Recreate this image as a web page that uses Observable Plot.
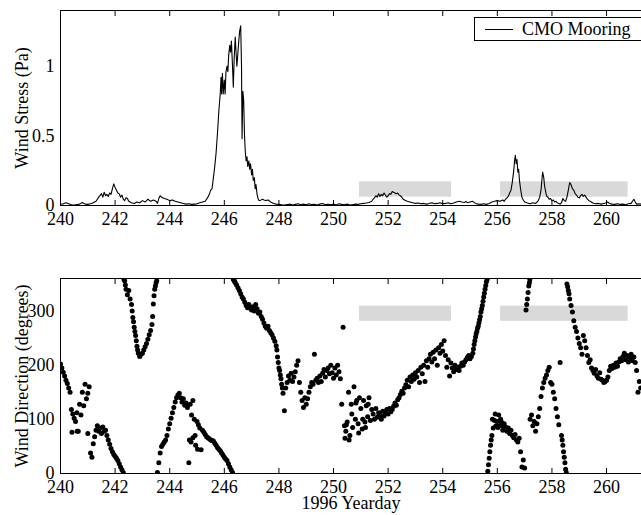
<!DOCTYPE html>
<html>
<head>
<meta charset="utf-8">
<script src="https://cdn.jsdelivr.net/npm/d3@7"></script>
<script src="https://cdn.jsdelivr.net/npm/@observablehq/plot@0.6"></script>
<style>
  html, body { margin: 0; padding: 0; background: #fff; overflow: hidden; }
  #chart { position: relative; width: 641px; height: 515px; overflow: hidden;
           font-family: "Liberation Serif", "Times New Roman", serif; }
  #chart svg { display: block; }
  #legend { position: absolute; left: 474px; top: 17px; width: 190px; height: 24px;
            border: 1px solid #000; background: #fff; box-sizing: border-box; }
  #legend .swatch { position: absolute; left: 10px; top: 11px; width: 28px; border-top: 1px solid #000; }
  #legend .label { position: absolute; left: 47px; top: 1px; font-size: 18px; line-height: 20px; white-space: nowrap; color: #000; }
</style>
</head>
<body>
<div id="chart">
  <div id="legend"><span class="swatch"></span><span class="label"></span></div>
</div>
<script>
// ---- Axis settings ----
const xDomain = [240, 261.28];
const xTicks = [240, 242, 244, 246, 248, 250, 252, 254, 256, 258, 260];
const stressTicks = [0, 0.5, 1];
const directionTicks = [0, 100, 200, 300];
const stressLabel = "Wind Stress (Pa)";
const directionLabel = "Wind Direction (degrees)";
const xLabel = "1996 Yearday";
const seriesName = "CMO Mooring";

// ---- Shaded analysis windows (yeardays) ----
const windowStart = [250.95, 256.12];
const windowEnd = [254.32, 260.79];
const stressBand = [0.06, 0.17];
const directionBand = [281, 309];

// ---- Wind stress (Pa) at the mooring ----
const stressDay = [
  240.0, 240.1, 240.2, 240.3, 240.4, 240.5, 240.6, 240.7, 240.8, 240.9,
  241.0, 241.1, 241.2, 241.3, 241.4, 241.5, 241.55, 241.6, 241.65, 241.7, 241.75, 241.8, 241.85, 241.9, 241.95,
  242.0, 242.05, 242.1, 242.15, 242.2, 242.25, 242.3, 242.35, 242.4, 242.45, 242.5, 242.6, 242.7, 242.8, 242.9,
  243.0, 243.1, 243.2, 243.3, 243.4, 243.5, 243.55, 243.6, 243.65, 243.7, 243.8, 243.9,
  244.0, 244.1, 244.2, 244.3, 244.4, 244.5, 244.6, 244.7, 244.8, 244.9,
  245.0, 245.1, 245.2, 245.3, 245.4, 245.45, 245.5, 245.55, 245.6, 245.65, 245.7, 245.75, 245.8, 245.85, 245.88, 245.9, 245.93, 245.96,
  246.0, 246.03, 246.06, 246.1, 246.13, 246.16, 246.2, 246.23, 246.26, 246.3, 246.33, 246.36, 246.4, 246.43, 246.46, 246.5, 246.53, 246.56, 246.6, 246.63, 246.65, 246.68, 246.71, 246.74, 246.77, 246.8, 246.83, 246.86, 246.9, 246.93, 246.96,
  247.0, 247.03, 247.06, 247.1, 247.13, 247.16, 247.2, 247.25, 247.3, 247.4, 247.5, 247.6, 247.7, 247.8, 247.9,
  248.0, 248.1, 248.2, 248.3, 248.4, 248.5, 248.6, 248.7, 248.8, 248.9,
  249.0, 249.1, 249.2, 249.3, 249.4, 249.5, 249.6, 249.7, 249.8, 249.9,
  250.0, 250.1, 250.2, 250.3, 250.4, 250.5, 250.6, 250.7, 250.8, 250.9,
  251.0, 251.1, 251.2, 251.3, 251.4, 251.45, 251.5, 251.55, 251.6, 251.65, 251.7, 251.75, 251.8, 251.85, 251.9, 251.95,
  252.0, 252.05, 252.1, 252.15, 252.2, 252.25, 252.3, 252.35, 252.4, 252.45, 252.5, 252.55, 252.6, 252.7, 252.8, 252.9,
  253.0, 253.1, 253.2, 253.3, 253.4, 253.5, 253.6, 253.7, 253.8, 253.9,
  254.0, 254.1, 254.2, 254.3, 254.4, 254.5, 254.6, 254.7, 254.8, 254.85, 254.9,
  255.0, 255.1, 255.2, 255.3, 255.4, 255.5, 255.6, 255.7, 255.8, 255.9,
  256.0, 256.1, 256.2, 256.25, 256.3, 256.35, 256.4, 256.45, 256.5, 256.55, 256.6, 256.63, 256.66, 256.69, 256.72, 256.75, 256.78, 256.81, 256.85, 256.9, 256.95,
  257.0, 257.1, 257.2, 257.3, 257.4, 257.45, 257.5, 257.55, 257.6, 257.63, 257.66, 257.7, 257.73, 257.77, 257.8, 257.85, 257.9, 257.95,
  258.0, 258.05, 258.1, 258.15, 258.2, 258.25, 258.3, 258.35, 258.4, 258.45, 258.5, 258.55, 258.6, 258.65, 258.7, 258.75, 258.8, 258.85, 258.9, 258.95,
  259.0, 259.05, 259.1, 259.15, 259.2, 259.25, 259.3, 259.35, 259.4, 259.5, 259.6, 259.7, 259.8, 259.9,
  260.0, 260.05, 260.1, 260.2, 260.3, 260.4, 260.5, 260.6, 260.7, 260.8, 260.9, 260.95,
  261.0, 261.05, 261.1, 261.2, 261.3
];
const stressVal = [
  0.010, 0.012, 0.020, 0.012, 0.005, 0.004, 0.006, 0.010, 0.022, 0.010,
  0.008, 0.012, 0.020, 0.030, 0.060, 0.085, 0.060, 0.095, 0.070, 0.080, 0.065, 0.090, 0.080, 0.120, 0.155,
  0.130, 0.110, 0.090, 0.085, 0.060, 0.075, 0.045, 0.035, 0.055, 0.050, 0.030, 0.020, 0.015, 0.025, 0.020,
  0.035, 0.025, 0.045, 0.030, 0.040, 0.030, 0.015, 0.050, 0.070, 0.060, 0.050, 0.045,
  0.035, 0.040, 0.030, 0.025, 0.020, 0.015, 0.010, 0.012, 0.008, 0.010,
  0.012, 0.020, 0.025, 0.030, 0.060, 0.080, 0.110, 0.120, 0.200, 0.280, 0.380, 0.520, 0.680, 0.800, 0.920, 0.800, 0.950, 0.800,
  0.900, 0.800, 0.960, 1.000, 0.960, 1.080, 1.150, 1.100, 1.180, 1.000, 0.850, 1.050, 1.210, 1.100, 1.000, 1.100, 1.180, 1.250, 1.290, 1.000, 0.480, 0.820, 0.750, 0.500, 0.380, 0.320, 0.350, 0.280, 0.320, 0.260, 0.300,
  0.220, 0.260, 0.180, 0.200, 0.120, 0.150, 0.080, 0.040, 0.035, 0.045, 0.035, 0.040, 0.025, 0.015, 0.010,
  0.008, 0.005, 0.004, 0.006, 0.010, 0.004, 0.008, 0.012, 0.006, 0.010,
  0.005, 0.012, 0.006, 0.009, 0.004, 0.010, 0.014, 0.006, 0.008, 0.005,
  0.010, 0.004, 0.012, 0.008, 0.006, 0.010, 0.004, 0.006, 0.010, 0.008,
  0.012, 0.015, 0.018, 0.022, 0.030, 0.045, 0.055, 0.070, 0.060, 0.085, 0.065, 0.080, 0.070, 0.090, 0.075, 0.060,
  0.070, 0.085, 0.080, 0.100, 0.095, 0.090, 0.085, 0.090, 0.075, 0.070, 0.060, 0.045, 0.040, 0.030, 0.025, 0.020,
  0.015, 0.018, 0.012, 0.015, 0.010, 0.014, 0.020, 0.012, 0.015, 0.020,
  0.012, 0.015, 0.020, 0.012, 0.018, 0.025, 0.030, 0.025, 0.022, 0.030, 0.020,
  0.025, 0.030, 0.015, 0.010, 0.008, 0.012, 0.008, 0.015, 0.025, 0.030,
  0.035, 0.030, 0.040, 0.030, 0.045, 0.055, 0.065, 0.090, 0.110, 0.170, 0.250, 0.320, 0.360, 0.300, 0.330, 0.240, 0.260, 0.180, 0.120, 0.060, 0.040,
  0.025, 0.018, 0.012, 0.020, 0.015, 0.025, 0.035, 0.060, 0.110, 0.180, 0.240, 0.200, 0.140, 0.100, 0.070, 0.060, 0.045, 0.050,
  0.035, 0.040, 0.025, 0.030, 0.018, 0.015, 0.010, 0.020, 0.050, 0.035, 0.030, 0.060, 0.110, 0.165, 0.150, 0.120, 0.110, 0.085, 0.075, 0.060,
  0.055, 0.070, 0.080, 0.065, 0.075, 0.060, 0.045, 0.035, 0.030, 0.018, 0.012, 0.015, 0.010, 0.015,
  0.020, 0.025, 0.015, 0.010, 0.008, 0.012, 0.008, 0.010, 0.006, 0.012, 0.015, 0.030,
  0.045, 0.025, 0.010, 0.012, 0.008
];

// ---- Wind direction (degrees), sampled every 0.05 day from yearday 240 ----
const directionStart = 240;
const directionStep = 0.05;
const directionDeg = [
  // 240
  202, 195, 187, 180, 172, 166, 158, 150, 118, 110, 102, 96, 112, 78, 128, 108, 150, 125, 165, 138,
  // 241
  148, 160, 38, 30, 55, 68, 80, 88, 78, 84, 74, 86, 78, 80, 70, 62, 54, 46, 40, 35,
  // 242
  32, 28, 24, 18, 12, 7, 2, 356, 340, 330, 338, 322, 312, 288, 270, 255, 235, 222, 216, 220,
  // 243
  222, 228, 234, 240, 248, 256, 264, 275, 313, 340, 352, 2, 20, 38, 50, 54, 58, 62, 70, 82,
  // 244
  92, 102, 112, 122, 132, 140, 145, 148, 140, 132, 138, 126, 130, 122, 20, 128, 108, 66, 100, 52,
  // 245
  96, 90, 84, 44, 80, 76, 72, 68, 66, 64, 62, 61, 60, 56, 52, 48, 45, 42, 38, 34,
  // 246
  30, 27, 24, 18, 12, 7, 2, 357, 352, 348, 343, 338, 332, 326, 322, 316, 310, 306, 312, 305,
  // 247
  302, 308, 300, 312, 304, 296, 298, 290, 285, 278, 272, 268, 272, 264, 260, 256, 250, 244, 236, 215,
  // 248
  195, 182, 165, 148, 116, 158, 168, 180, 172, 185, 170, 178, 188, 200, 208, 168, 150, 135, 122, 140,
  // 249
  128, 138, 150, 160, 168, 165, 220, 172, 176, 168, 180, 170, 185, 192, 178, 190, 195, 184, 200, 186,
  // 250
  176, 195, 182, 200, 188, 175, 128, 270, 88, 78, 95, 150, 70, 128, 85, 160, 100, 135, 92, 140,
  // 251
  120, 82, 135, 95, 125, 105, 140, 98, 118, 110, 100, 120, 104, 112, 108, 100, 115, 106, 112, 118,
  // 252
  110, 120, 114, 118, 124, 130, 126, 136, 140, 146, 152, 148, 158, 164, 172, 160, 178, 170, 182, 174,
  // 253
  186, 178, 190, 168, 196, 184, 200, 170, 208, 196, 212, 220, 206, 224, 212, 228, 200, 232, 222, 238,
  // 254
  226, 245, 218, 196, 210, 180, 204, 195, 188, 200, 192, 196, 190, 198, 204, 200, 206, 210, 214, 218,
  // 255
  212, 216, 222, 238, 252, 262, 272, 284, 298, 310, 326, 340, 354, 4, 28, 52, 70, 84, 98, 88,
  // 256
  96, 108, 88, 95, 80, 92, 86, 78, 84, 74, 80, 70, 66, 72, 62, 58, 65, 40, 12, 25,
  // 257
  10, 302, 322, 346, 100, 108, 88, 96, 78, 92, 105, 120, 142, 158, 168, 176, 182, 190, 196, 168,
  // 258
  165, 150, 138, 120, 105, 90, 205, 70, 52, 30, 8, 350, 338, 322, 310, 298, 282, 270, 262, 250,
  // 259
  240, 232, 220, 255, 245, 232, 218, 205, 210, 195, 190, 185, 192, 180, 176, 186, 174, 172, 168, 170,
  // 260
  172, 178, 190, 198, 194, 200, 196, 204, 198, 206, 212, 208, 216, 222, 210, 218, 206, 214, 220, 208,
  // 261
  215, 205, 190, 150, 170, 158
];

// Additional readings on fast-turning stretches and scattered samples
const extraDay = [
  240.42, 240.61, 241.0,
  242.325, 242.375, 242.625, 242.675, 242.725, 242.775, 242.825,
  243.375, 243.425, 243.475, 243.525,
  244.72, 244.78, 244.85, 244.93, 245.02,
  246.325, 246.375,
  247.925, 247.975, 248.025, 248.075, 248.125,
  250.42, 250.47, 250.57, 250.67, 250.82, 250.92, 251.07, 251.17, 251.27,
  255.125, 255.175, 255.225, 255.275, 255.325, 255.375, 255.425, 255.475, 255.525, 255.575, 255.625,
  255.675, 255.725, 255.775, 255.82, 255.92, 256.02, 256.12, 256.22,
  257.075, 257.125, 257.175, 257.19,
  258.375, 258.425, 258.475, 258.525, 258.575, 258.625
];
const extraDeg = [
  76, 78, 74,
  358, 348, 300, 280, 262, 245, 228,
  290, 328, 346, 356,
  62, 58, 135, 70, 45,
  359, 355,
  228, 205, 190, 175, 158,
  65, 90, 62, 110, 130, 75, 100, 85, 128,
  230, 245, 258, 268, 278, 290, 304, 318, 333, 347, 358,
  16, 40, 62, 100, 110, 85, 100, 88,
  312, 334, 352, 358,
  62, 40, 20, 2, 345, 332
];

// ---- Build mark tables from the arrays ----
const stressRows = stressDay.map((d, i) => ({day: d, value: stressVal[i]}));
const directionRows = directionDeg.map((v, i) => ({day: directionStart + i * directionStep, deg: v}))
  .concat(extraDay.map((d, i) => ({day: d, deg: extraDeg[i]})));
const windows = windowStart.map((s, i) => ({start: s, end: windowEnd[i]}));

const font = {fontFamily: "'Liberation Serif', 'Times New Roman', serif", fontSize: "18px", color: "#000", background: "#fff", overflow: "visible"};
const shade = "#d9d9d9";

function frameAxes(yTicks) {
  return [
    Plot.frame({stroke: "#000", strokeWidth: 1}),
    Plot.axisX({anchor: "bottom", ticks: xTicks, tickSize: 0, tickPadding: 7, tickFormat: d => String(d), label: null}),
    Plot.axisX({anchor: "bottom", ticks: xTicks, tickSize: -5, tickFormat: () => "", label: null}),
    Plot.axisX({anchor: "top", ticks: xTicks, tickSize: -5, tickFormat: () => "", label: null}),
    Plot.axisY({anchor: "left", ticks: yTicks, tickSize: 0, tickPadding: 6, tickFormat: d => String(d), label: null})
  ];
}

function yTitle(text) {
  return Plot.text([text], {frameAnchor: "left", textAnchor: "middle", lineAnchor: "middle", rotate: -90, dx: -38, fontSize: 18});
}

const stressPlot = Plot.plot({
  width: 641, height: 240,
  marginLeft: 60, marginRight: 0, marginTop: 10, marginBottom: 35,
  style: font,
  x: {domain: xDomain},
  y: {domain: [0, 1.4]},
  marks: [
    Plot.rect(windows, {x1: "start", x2: "end", y1: () => stressBand[0], y2: () => stressBand[1], fill: shade}),
    Plot.line(stressRows, {x: "day", y: "value", stroke: "#000", strokeWidth: 1.1, clip: true}),
    ...frameAxes(stressTicks),
    yTitle(stressLabel)
  ]
});

const directionPlot = Plot.plot({
  width: 641, height: 275,
  marginLeft: 60, marginRight: 0, marginTop: 38, marginBottom: 42,
  style: font,
  x: {domain: xDomain},
  y: {domain: [0, 360]},
  marks: [
    Plot.rect(windows, {x1: "start", x2: "end", y1: () => directionBand[0], y2: () => directionBand[1], fill: shade}),
    Plot.dot(directionRows, {x: "day", y: "deg", r: 2.5, fill: "#000", stroke: "none", clip: true}),
    ...frameAxes(directionTicks),
    yTitle(directionLabel),
    Plot.text([xLabel], {frameAnchor: "bottom", textAnchor: "middle", lineAnchor: "middle", dy: 30, fontSize: 18})
  ]
});

const chart = document.getElementById("chart");
chart.insertBefore(directionPlot, chart.firstChild);
chart.insertBefore(stressPlot, chart.firstChild);
document.querySelector("#legend .label").textContent = seriesName;
</script>
</body>
</html>
